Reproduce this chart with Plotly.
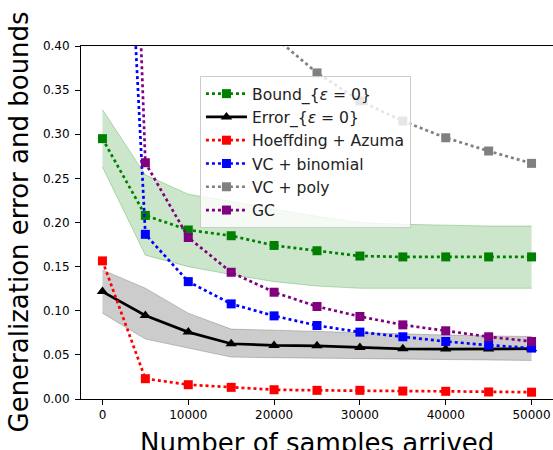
import plotly.graph_objects as go

x = [0, 5000, 10000, 15000, 20000, 25000, 30000, 35000, 40000, 45000, 50000]

bound = [0.295, 0.208, 0.1915, 0.185, 0.174, 0.168, 0.162, 0.161, 0.161, 0.161, 0.161]
bound_hi = [0.328, 0.254, 0.232, 0.224, 0.215, 0.207, 0.200, 0.198, 0.197, 0.196, 0.196]
bound_lo = [0.263, 0.163, 0.150, 0.141, 0.133, 0.128, 0.1255, 0.1255, 0.1255, 0.1255, 0.1255]

error = [0.1217, 0.0946, 0.0758, 0.0626, 0.0607, 0.0603, 0.0584, 0.0569, 0.0566, 0.0566, 0.057]
error_hi = [0.1463, 0.1256, 0.0973, 0.0792, 0.0780, 0.0765, 0.0750, 0.0738, 0.0725, 0.0715, 0.0708]
error_lo = [0.0973, 0.0679, 0.0577, 0.0475, 0.0468, 0.0462, 0.0456, 0.0450, 0.0445, 0.0440, 0.0437]

hoeffding = [0.1565, 0.023, 0.0162, 0.0132, 0.0105, 0.0098, 0.0098, 0.009, 0.0087, 0.008, 0.0077]
vc_binomial = [1.14, 0.1866, 0.133, 0.1078, 0.0942, 0.0833, 0.0758, 0.0705, 0.0652, 0.061, 0.0577]
vc_poly = [2.0, 0.75, 0.56, 0.47, 0.4106, 0.3695, 0.3378, 0.315, 0.296, 0.281, 0.267]
gc = [1.6, 0.2677, 0.183, 0.1436, 0.121, 0.1048, 0.0935, 0.084, 0.0773, 0.0705, 0.0652]

x_ticks = [0, 10000, 20000, 30000, 40000, 50000]
y_ticks = [0.00, 0.05, 0.10, 0.15, 0.20, 0.25, 0.30, 0.35, 0.40]

FONT = "DejaVu Sans"

fig = go.Figure()

# bands
fig.add_trace(go.Scatter(x=x, y=bound_lo, mode="lines", line=dict(color="rgba(0,128,0,0.25)", width=1),
                         showlegend=False, hoverinfo="skip"))
fig.add_trace(go.Scatter(x=x, y=bound_hi, mode="lines", line=dict(color="rgba(0,128,0,0.25)", width=1),
                         fill="tonexty", fillcolor="rgba(0,128,0,0.2)", showlegend=False, hoverinfo="skip"))
fig.add_trace(go.Scatter(x=x, y=error_lo, mode="lines", line=dict(color="rgba(0,0,0,0.2)", width=1),
                         showlegend=False, hoverinfo="skip"))
fig.add_trace(go.Scatter(x=x, y=error_hi, mode="lines", line=dict(color="rgba(0,0,0,0.2)", width=1),
                         fill="tonexty", fillcolor="rgba(0,0,0,0.2)", showlegend=False, hoverinfo="skip"))

def dotted(name, y, color):
    fig.add_trace(go.Scatter(
        x=x, y=y, name=name, mode="lines+markers",
        line=dict(color=color, width=2.7, dash="dot"),
        marker=dict(symbol="square", size=9, color=color),
    ))

dotted("Bound_{<i>ε</i> = 0}", bound, "green")
fig.add_trace(go.Scatter(
    x=x, y=error, name="Error_{<i>ε</i> = 0}", mode="lines+markers",
    line=dict(color="black", width=2.7),
    marker=dict(symbol="triangle-up", size=10, color="black"),
))
dotted("Hoeffding + Azuma", hoeffding, "red")
dotted("VC + binomial", vc_binomial, "blue")
dotted("VC + poly", vc_poly, "gray")
dotted("GC", gc, "purple")

axis_common = dict(
    showgrid=False, zeroline=False, showline=True, linecolor="black", linewidth=1,
    mirror=True, ticks="outside", ticklen=5, tickcolor="black", tickwidth=1,
    tickfont=dict(family=FONT, size=12, color="black"), automargin=False,
)

fig.update_layout(
    width=553, height=450,
    margin=dict(l=81, r=0, t=46, b=51),
    paper_bgcolor="white", plot_bgcolor="white",
    font=dict(family=FONT, color="black"),
    xaxis=dict(range=[-2500, 52500], tickvals=x_ticks, ticktext=[str(v) for v in x_ticks], **axis_common),
    yaxis=dict(range=[0, 0.40], tickvals=y_ticks, ticktext=[f"{v:.2f}" for v in y_ticks],
               ticklabelstandoff=3, **axis_common),
    legend=dict(
        x=0.252, y=0.915, xanchor="left", yanchor="top", traceorder="normal",
        bgcolor="rgba(255,255,255,0.8)", bordercolor="#cccccc", borderwidth=1,
        font=dict(family=FONT, size=15.6, color="#222222"),
        tracegroupgap=0, itemwidth=41,
    ),
    showlegend=True,
    annotations=[
        dict(text="Number of samples arrived", xref="paper", yref="paper", x=0.5, y=0,
             yshift=-27, xanchor="center", yanchor="top", showarrow=False,
             font=dict(family=FONT, size=26, color="black")),
        dict(text="Generalization error and bounds", xref="paper", yref="paper", x=0, y=0.5,
             xshift=-46, xanchor="right", yanchor="middle", textangle=-90, showarrow=False,
             font=dict(family=FONT, size=26, color="black")),
    ],
)

fig.write_html("out.html", config={"displayModeBar": False},
               post_script="document.body.style.margin='0';")
